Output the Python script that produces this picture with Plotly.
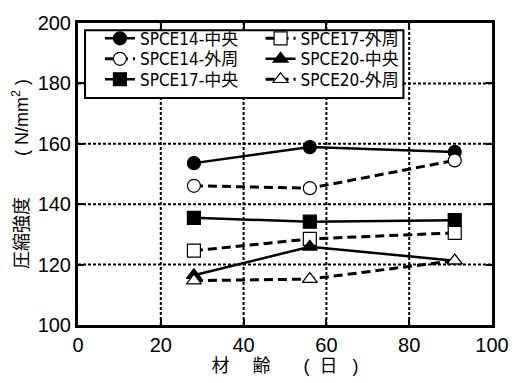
import plotly.graph_objects as go

# Age in days and compressive strength (N/mm²) per specimen and location
age = [28, 56, 91]
spce14_center = [153.6, 158.9, 157.3]
spce14_outer = [146.1, 145.3, 154.5]
spce17_center = [135.5, 134.2, 134.7]
spce17_outer = [124.6, 128.5, 130.5]
spce20_center = [116.5, 125.9, 121.3]
spce20_outer = [114.7, 115.2, 121.3]

x_ticks = [0, 20, 40, 60, 80, 100]
y_ticks = [100, 120, 140, 160, 180, 200]
x_range = [0, 100]
y_range = [100, 200]

FONT = "Liberation Sans, Arial, Noto Sans CJK JP, sans-serif"
LEG_FONT = "DejaVu Sans Condensed, Liberation Sans, Noto Sans CJK JP, sans-serif"
BLACK = "black"
SOLID_W = 2.5
DASH_W = 3
DASH = "9px,5px"
MSIZE = 13

# name, values, symbol, filled, dashed, legend id
series = [
    ("SPCE14-中央", spce14_center, "circle", True, False, "legend"),
    ("SPCE14-外周", spce14_outer, "circle", False, True, "legend2"),
    ("SPCE17-中央", spce17_center, "square", True, False, "legend3"),
    ("SPCE17-外周", spce17_outer, "square", False, True, "legend4"),
    ("SPCE20-中央", spce20_center, "triangle-up", True, False, "legend5"),
    ("SPCE20-外周", spce20_outer, "triangle-up", False, True, "legend6"),
]

fig = go.Figure()
for name, vals, sym, filled, dashed, lg in series:
    fig.add_trace(go.Scatter(
        x=age, y=vals, name=name, mode="lines+markers", legend=lg,
        line=dict(color=BLACK, width=DASH_W if dashed else SOLID_W,
                  dash=DASH if dashed else "solid"),
        marker=dict(symbol=sym, size=MSIZE,
                    color=BLACK if filled else "white",
                    line=dict(color=BLACK, width=1.2)),
    ))

axis_common = dict(
    showline=True, linewidth=3, linecolor=BLACK, mirror="ticks",
    ticks="inside", ticklen=6, tickwidth=2, tickcolor=BLACK,
    showgrid=False, zeroline=False,
    tickfont=dict(family=FONT, size=20, color=BLACK),
)

# dotted grid at the inner tick positions, then the white legend box on top
grid = dict(color=BLACK, width=2, dash="3px,2px")
shapes = []
for xv in x_ticks[1:-1]:
    shapes.append(dict(type="line", xref="x", yref="y", x0=xv, x1=xv,
                       y0=y_range[0], y1=y_range[1], line=grid, layer="below"))
for yv in y_ticks[1:-1]:
    shapes.append(dict(type="line", xref="x", yref="y", x0=x_range[0], x1=x_range[1],
                       y0=yv, y1=yv, line=grid, layer="below"))
shapes.append(dict(type="rect", xref="x", yref="y",
                   x0=1.7, x1=78.6, y0=175.2, y1=197.6,
                   fillcolor="white", line=dict(color=BLACK, width=2),
                   layer="below"))

# legend entries: two columns of three rows
col_x = [0.053, 0.441]
row_y = [0.9477, 0.880, 0.8123]
legend_layout = {}
for i in range(6):
    key = "legend" if i == 0 else f"legend{i + 1}"
    legend_layout[key] = dict(
        x=col_x[i // 3], y=row_y[i % 3], xanchor="left", yanchor="middle",
        bgcolor="rgba(0,0,0,0)", borderwidth=0,
        font=dict(family=LEG_FONT, size=17, color=BLACK),
    )

fig.update_layout(
    width=521, height=383,
    margin=dict(l=78, r=28, t=15, b=58),
    paper_bgcolor="white", plot_bgcolor="rgba(0,0,0,0)",
    font=dict(family=FONT, color=BLACK),
    showlegend=True,
    xaxis=dict(range=x_range, tickvals=x_ticks, layer="above traces",
               **axis_common,
               title=dict(text="材\u3000\u00a0齢\u3000\u00a0\u00a0\u00a0(\u00a0\u00a0日\u00a0\u00a0\u00a0)",
                          standoff=2, font=dict(family=FONT, size=18))),
    yaxis=dict(range=y_range, tickvals=y_ticks, layer="above traces",
               **axis_common,
               title=dict(text="圧縮強度\u3000\u3000\u00a0(\u00a0N/mm<sup>2</sup>\u00a0)",
                          standoff=5, font=dict(family=FONT, size=18))),
    shapes=shapes,
    **legend_layout,
)

fig.write_html("out.html")
